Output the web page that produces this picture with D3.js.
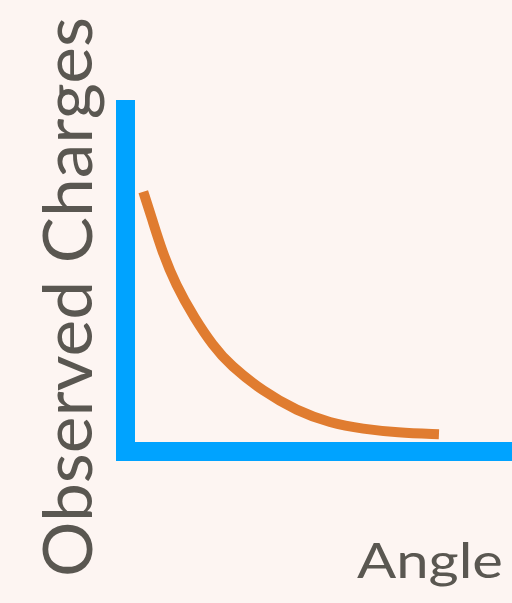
<!DOCTYPE html>
<html>
<head>
<meta charset="utf-8">
<script src="https://cdn.jsdelivr.net/npm/d3@7"></script>
<style>
  html, body { margin: 0; padding: 0; background: #fdf5f2; }
  svg { display: block; }
  text { font-family: Lato, "Open Sans", sans-serif; fill: #5a5751; }
</style>
</head>
<body>
<svg id="chart" width="512" height="603"></svg>
<script>
// decay curve (angle, charges), both on a 0-100 scale
const angles  = [4.6, 6.8, 9.5, 13.0, 17.8, 22.7, 27.0, 35.7, 44.3, 52.9, 61.5, 70.2, 81.1];
const charges = [73.9, 66.4, 56.8, 47.4, 38.0, 30.0, 24.6, 17.0, 11.6, 8.1, 6.4, 5.4, 4.9];
const xLabel = 'Angle';
const yLabel = 'Observed Charges';

const width = 512, height = 603;
const svg = d3.select('#chart');

svg.append('rect')
  .attr('width', width)
  .attr('height', height)
  .attr('fill', '#fdf5f2');

const x = d3.scaleLinear().domain([0, 100]).range([125.5, 512]);
const y = d3.scaleLinear().domain([0, 100]).range([451.5, 100]);

const axisW = 19;

// axes as heavy bars
svg.append('line')
  .attr('x1', x(0)).attr('x2', x(0))
  .attr('y1', y(100)).attr('y2', y(0) + axisW / 2)
  .attr('stroke', '#00a3ff')
  .attr('stroke-width', axisW);

svg.append('line')
  .attr('x1', x(0) - axisW / 2).attr('x2', x(100))
  .attr('y1', y(0)).attr('y2', y(0))
  .attr('stroke', '#00a3ff')
  .attr('stroke-width', axisW);

const pts = angles.map((a, i) => [a, charges[i]]);

// basis smooths out the reading noise in the points
const line = d3.line()
  .x(d => x(d[0]))
  .y(d => y(d[1]))
  .curve(d3.curveBasis);

svg.append('path')
  .datum(pts)
  .attr('d', line)
  .attr('fill', 'none')
  .attr('stroke', '#e07c30')
  .attr('stroke-width', 10);

svg.append('text')
  .attr('x', 357)
  .attr('y', 578)
  .attr('font-size', 49)
  .attr('textLength', 146)
  .attr('lengthAdjust', 'spacingAndGlyphs')
  .text(xLabel);

svg.append('text')
  .attr('transform', 'translate(92,577) rotate(-90)')
  .attr('font-size', 67)
  .attr('textLength', 560)
  .attr('lengthAdjust', 'spacingAndGlyphs')
  .text(yLabel);
</script>
</body>
</html>
